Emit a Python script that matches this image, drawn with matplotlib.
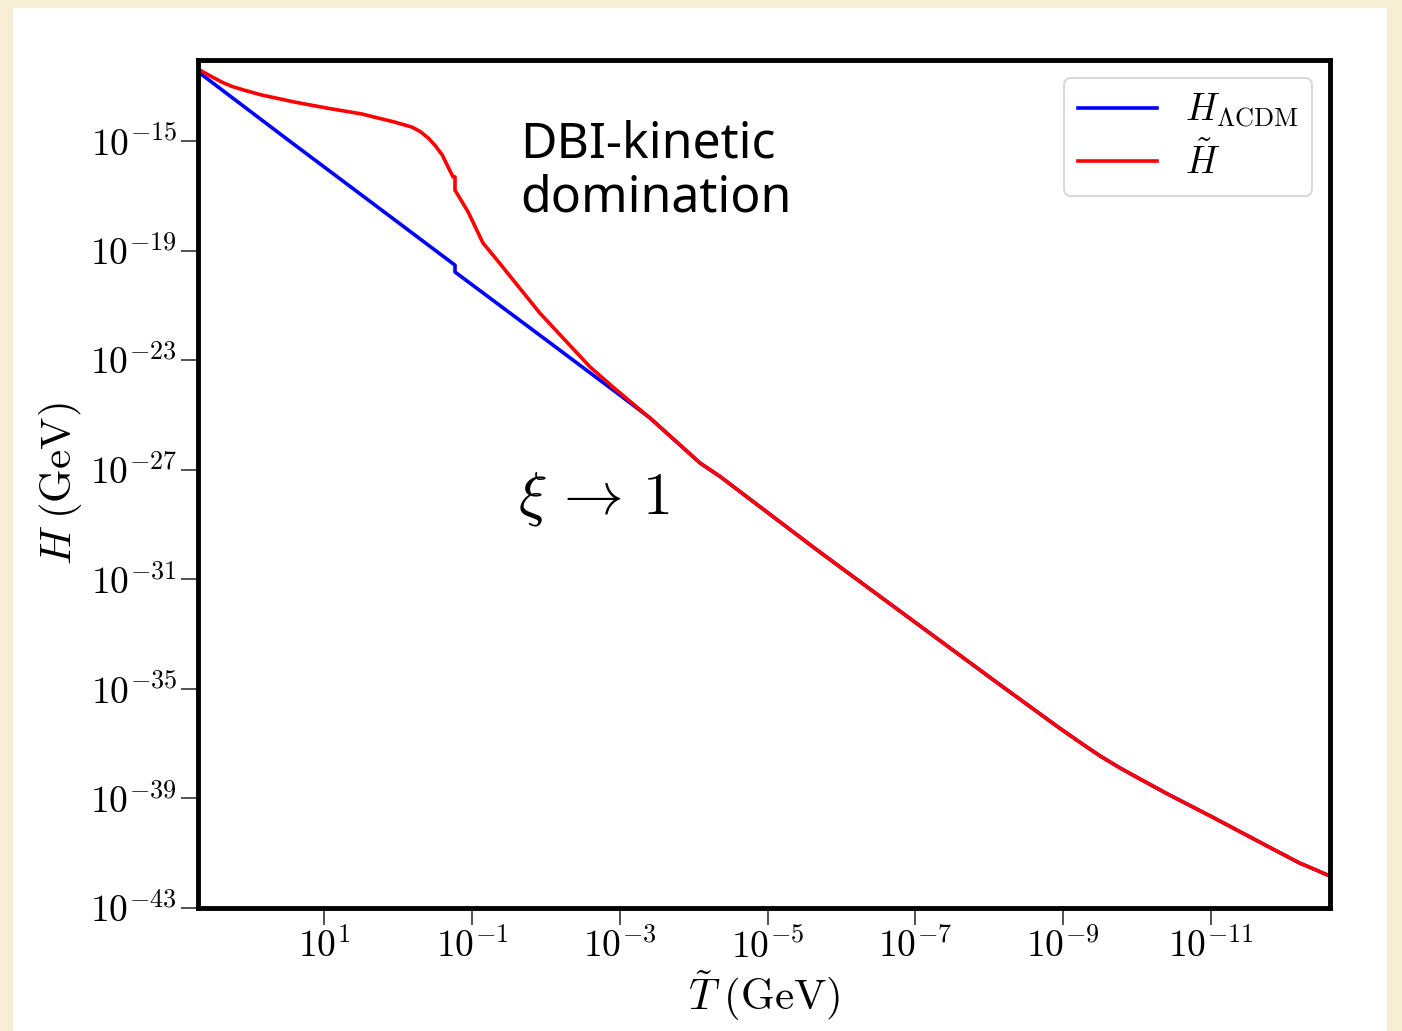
import numpy as np
import matplotlib
matplotlib.use('Agg')
import matplotlib.pyplot as plt
from matplotlib.patches import Rectangle

plt.rcParams['mathtext.fontset'] = 'cm'

# log10 of T (GeV) and H (GeV)
# both curves share the late-time tail
logT_tail = [-3.41, -4.09, -4.36, -5.67, -7.47, -8.15, -8.69, -8.96, -9.27, -9.50, -9.77,
             -10.04, -10.40, -10.99, -11.53, -11.93, -12.20, -12.41, -12.58]
logH_tail = [-25.11, -26.76, -27.25, -29.93, -33.51, -34.86, -35.92, -36.45, -37.03, -37.45,
             -37.89, -38.29, -38.82, -39.64, -40.41, -40.98, -41.36, -41.60, -41.80]

logT_lcdm = [2.68, 1.50, 0.20, -0.772, -0.772, -2.00, -3.00]
logH_lcdm = [-12.52, -14.93, -17.56, -19.53, -19.78, -22.25, -24.27]

logT_dbi = [2.68, 2.52, 2.38, 2.25, 2.07, 1.84, 1.39, 0.95, 0.49, 0.04, -0.19, -0.30, -0.41,
            -0.50, -0.60, -0.745, -0.772, -0.772, -0.95, -1.15, -1.34, -1.92, -2.60, -2.91,
            -3.28]
logH_dbi = [-12.41, -12.65, -12.85, -13.00, -13.15, -13.32, -13.58, -13.80, -14.01, -14.31,
            -14.49, -14.65, -14.89, -15.15, -15.51, -16.31, -16.31, -16.79, -17.59, -18.72,
            -19.34, -21.28, -23.25, -23.98, -24.82]

xtick_exp = [1, -1, -3, -5, -7, -9, -11]
ytick_exp = [-15, -19, -23, -27, -31, -35, -39, -43]

T_lcdm = 10.0**np.array(logT_lcdm + logT_tail)
H_lcdm = 10.0**np.array(logH_lcdm + logH_tail)
T_dbi = 10.0**np.array(logT_dbi + logT_tail)
H_dbi = 10.0**np.array(logH_dbi + logH_tail)

fig = plt.figure(figsize=(14.02, 10.31), dpi=100)
fig.patch.set_facecolor('#f7efd3')
fig.patches.append(Rectangle((13/1402, 0), 1374/1402, 1023/1031, transform=fig.transFigure,
                             facecolor='white', edgecolor='none', zorder=-5))

ax = fig.add_axes([198/1402, 1 - 908/1031, 1132/1402, 848/1031])
ax.plot(T_lcdm, H_lcdm, color='blue', lw=2.6, label=r'$H_{\Lambda\mathrm{CDM}}$')
ax.plot(T_dbi, H_dbi, color='red', lw=2.6, label=r'$\tilde{H}$')

ax.set_xscale('log')
ax.set_yscale('log')
ax.set_xlim(10**2.705, 10**-12.61)
ax.set_ylim(1e-43, 10**-12.04)
ax.set_xticks([10.0**e for e in xtick_exp])
ax.set_xticklabels([r'$10^{%d}$' % e for e in xtick_exp])
ax.set_yticks([10.0**e for e in ytick_exp])
ax.set_yticklabels([r'$10^{%d}$' % e for e in ytick_exp])
ax.minorticks_off()
ax.tick_params(axis='both', direction='out', length=12, width=1.2, color='#333333',
               labelsize=27, pad=3)

for s in ax.spines.values():
    s.set_linewidth(3.5)
    s.set_color('black')

ax.set_xlabel(r'$\tilde{T}\;(\mathrm{GeV})$', fontsize=31, labelpad=2)
ax.set_ylabel(r'$H\;(\mathrm{GeV})$', fontsize=31, labelpad=4)

ax.text(520/1402, 1 - 120/1031, 'DBI-kinetic\ndomination', transform=fig.transFigure,
        fontsize=36, family='Noto Sans', va='top', ha='left', linespacing=1.1)
ax.text(518/1402, 1 - 513/1031, r'$\xi\,\rightarrow\,1$', transform=fig.transFigure,
        fontsize=43, va='baseline', ha='left')

leg = ax.legend(loc='upper right', fontsize=27, handlelength=2.1, handletextpad=0.75,
                borderpad=0.37, labelspacing=0.32, fancybox=True, framealpha=1,
                bbox_to_anchor=(1, 1), borderaxespad=0.48)
leg.get_frame().set_edgecolor('#d8d8d8')
leg.get_frame().set_linewidth(1.5)

fig.savefig('out.png', dpi=100, facecolor=fig.get_facecolor())
